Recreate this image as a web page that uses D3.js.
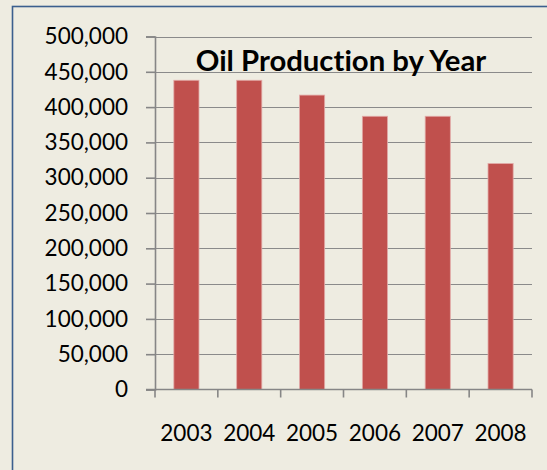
<!DOCTYPE html>
<html>
<head>
<meta charset="utf-8">
<script src="https://cdn.jsdelivr.net/npm/d3@7"></script>
<style>
  html, body { margin: 0; padding: 0; background: #eeece1; }
  svg { display: block; }
  text {
    font-family: Lato, "Open Sans", sans-serif; fill: #000;
    font-variant-ligatures: none; font-feature-settings: "liga" 0, "dlig" 0;
  }
</style>
</head>
<body>
<svg id="chart" width="547" height="470"></svg>
<script>
// Annual oil production
const years = ["2003", "2004", "2005", "2006", "2007", "2008"];
const production = [438000, 438000, 417000, 387000, 387000, 320000];
const yTicks = [0, 50000, 100000, 150000, 200000, 250000, 300000, 350000, 400000, 450000, 500000];
const title = "Oil Production by Year";

const svg = d3.select("#chart");
const W = 547, H = 470;
const plot = { left: 155, right: 532, top: 36.5, bottom: 389.5 };

// background and chart frame
svg.append("rect").attr("width", W).attr("height", H).attr("fill", "#eeece1");
svg.append("rect")
  .attr("x", 12.5).attr("y", 6.5)
  .attr("width", W + 20).attr("height", H + 20)
  .attr("fill", "#eeece1")
  .attr("stroke", "#3b5f8e").attr("stroke-width", 1.6);

const y = d3.scaleLinear().domain([0, 500000]).range([plot.bottom, plot.top]);
const xCat = d3.scaleBand().domain(years).range([plot.left, plot.right]);
const xBar = d3.scaleBand().domain(years).range([plot.left, plot.right])
  .paddingInner(0.6).paddingOuter(0.3);

// horizontal gridlines
svg.append("g").selectAll("line")
  .data(yTicks.filter(d => d > 0))
  .join("line")
  .attr("x1", plot.left).attr("x2", plot.right)
  .attr("y1", d => Math.round(y(d)) + 0.5).attr("y2", d => Math.round(y(d)) + 0.5)
  .attr("stroke", "#8a8a8a").attr("stroke-width", 1.2);

// bars
svg.append("g").selectAll("rect")
  .data(years.map((yr, i) => ({ yr, v: production[i] })))
  .join("rect")
  .attr("x", d => xBar(d.yr))
  .attr("width", xBar.bandwidth())
  .attr("y", d => y(d.v))
  .attr("height", d => y(0) - y(d.v))
  .attr("fill", "#c0504d")
  .attr("stroke", "#e2a9a7").attr("stroke-width", 0.8);

// y axis
const yAxis = svg.append("g")
  .attr("transform", `translate(${plot.left},0)`)
  .call(d3.axisLeft(y).tickValues(yTicks).tickFormat(d3.format(",")).tickSize(9).tickPadding(18));
yAxis.select(".domain").attr("stroke", "#868686").attr("stroke-width", 1.6);
yAxis.selectAll(".tick line").attr("stroke", "#868686").attr("stroke-width", 1.6);
yAxis.selectAll(".tick text")
  .attr("font-family", "Lato, 'Open Sans', sans-serif")
  .attr("font-size", 22.5).attr("fill", "#000");

// x axis: ticks between categories
const xg = svg.append("g");
xg.append("line")
  .attr("x1", plot.left - 9).attr("x2", plot.right)
  .attr("y1", plot.bottom).attr("y2", plot.bottom)
  .attr("stroke", "#868686").attr("stroke-width", 1.6);
xg.selectAll("line.tick")
  .data(years.map(d => xCat(d)).concat([plot.right]))
  .join("line").attr("class", "tick")
  .attr("x1", d => d).attr("x2", d => d)
  .attr("y1", plot.bottom).attr("y2", plot.bottom + 8)
  .attr("stroke", "#868686").attr("stroke-width", 1.6);
xg.selectAll("text")
  .data(years)
  .join("text")
  .attr("x", d => xCat(d) + xCat.bandwidth() / 2)
  .attr("y", 441)
  .attr("text-anchor", "middle")
  .attr("font-size", 22.5)
  .text(d => d);

// title
svg.append("text")
  .attr("x", 341).attr("y", 70.5)
  .attr("text-anchor", "middle")
  .attr("font-size", 29.3).attr("font-weight", "bold")
  .text(title);
</script>
</body>
</html>
